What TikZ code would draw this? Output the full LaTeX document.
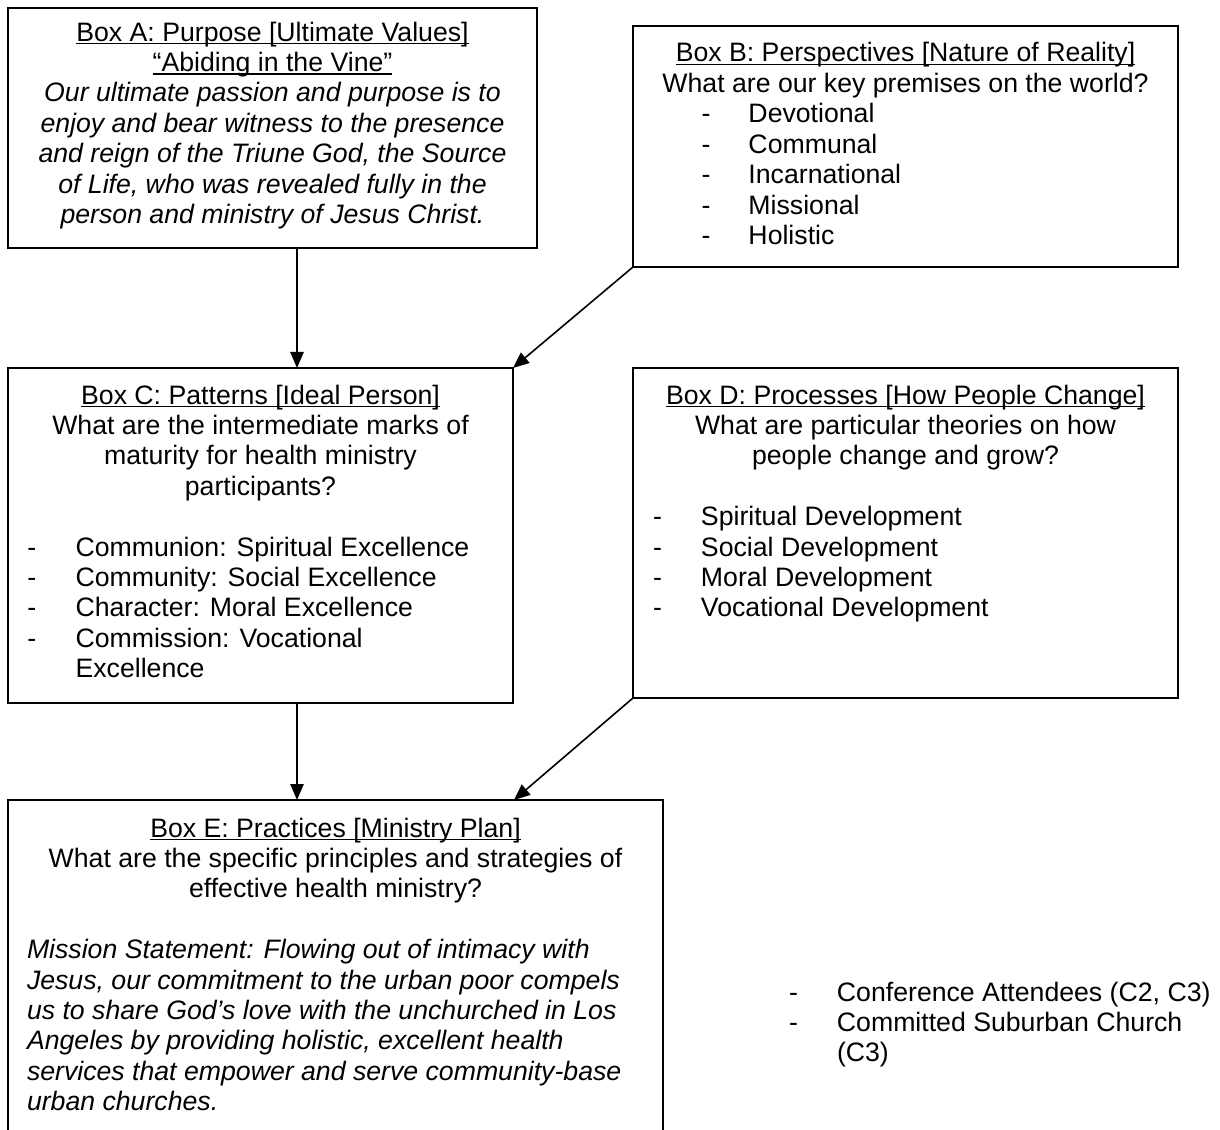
\documentclass[tikz,border=0pt]{standalone}
\usepackage{fontspec}
\setmainfont{Liberation Sans}
\usetikzlibrary{arrows.meta}
\newcommand\myul[1]{\setbox0=\hbox{#1}\rlap{\rule[-2.6pt]{\wd0}{1.1pt}}\box0}
\newcommand\fs{\rule{0pt}{16pt}}
\newcommand\dsh[1]{\makebox[#1][l]{-}}
\begin{document}
\begin{tikzpicture}[x=0.75pt,y=-0.75pt,
  box/.style={draw,line width=1.5pt,inner sep=0,outer sep=0,rectangle},
  txt/.style={inner sep=0,outer sep=0,font=\fontsize{20pt}{22.8pt}\selectfont},
  arr/.style={line width=1.2pt,-{Triangle[length=12pt,width=10pt]}}]
\useasboundingbox (0,0) rectangle (1220,1130);
\fill[white] (0,0) rectangle (1220,1130);

% boxes
\node[box,minimum width=396.75pt,minimum height=180pt] (boxA) at (272.5,128) {};
\node[box,minimum width=408.75pt,minimum height=180.75pt] (boxB) at (905.5,146.5) {};
\node[box,minimum width=378.75pt,minimum height=251.25pt] (boxC) at (260.5,535.5) {};
\node[box,minimum width=408.75pt,minimum height=247.5pt] (boxD) at (905.5,533) {};
\node[inner sep=0,outer sep=0,minimum width=491.25pt,minimum height=255pt] (boxE) at (335.5,970) {};
\draw[line width=1.5pt] (boxE.south west) |- (boxE.north east) -- (boxE.south east);

% Box A text
\node[txt,align=center,anchor=north] (tA) at (272.5,19.67)
 {\fs\myul{Box A: Purpose [Ultimate Values]}\\
  \myul{“Abiding in the Vine”}\\
  \textit{Our ultimate passion and purpose is to}\\
  \textit{enjoy and bear witness to the presence}\\
  \textit{and reign of the Triune God, the Source}\\
  \textit{of Life, who was revealed fully in the}\\
  \textit{person and ministry of Jesus Christ.}};

% Box B text
\node[txt,align=center,anchor=north] (tB) at (905.5,40.67)
 {\fs\myul{Box B: Perspectives [Nature of Reality]}\\
  What are our key premises on the world?};
\node[txt,align=left,anchor=north west] (lB) at (701.5,101.47)
 {\fs\dsh{35.25pt}Devotional\\
  \dsh{35.25pt}Communal\\
  \dsh{35.25pt}Incarnational\\
  \dsh{35.25pt}Missional\\
  \dsh{35.25pt}Holistic};

% Box C text
\node[txt,align=center,anchor=north] (tC) at (260.5,382.67)
 {\fs\myul{Box C: Patterns [Ideal Person]}\\
  What are the intermediate marks of\\
  maturity for health ministry\\
  participants?};
\node[txt,align=left,anchor=north west] (lC) at (27.3,534.67)
 {\fs\dsh{36.2pt}Communion: Spiritual Excellence\\
  \dsh{36.2pt}Community: Social Excellence\\
  \dsh{36.2pt}Character: Moral Excellence\\
  \dsh{36.2pt}Commission: Vocational\\
  \hspace*{36.2pt}Excellence};

% Box D text
\node[txt,align=center,anchor=north] (tD) at (905.5,382.67)
 {\fs\myul{Box D: Processes [How People Change]}\\
  What are particular theories on how\\
  people change and grow?};
\node[txt,align=left,anchor=north west] (lD) at (653,504.27)
 {\fs\dsh{36pt}Spiritual Development\\
  \dsh{36pt}Social Development\\
  \dsh{36pt}Moral Development\\
  \dsh{36pt}Vocational Development};

% Box E text
\node[txt,align=center,anchor=north] (tE) at (335.5,815.67)
 {\fs\myul{Box E: Practices [Ministry Plan]}\\
  What are the specific principles and strategies of\\
  effective health ministry?};
\node[txt,align=left,anchor=north west] (mE) at (27,937.27)
 {\fs\textit{Mission Statement: Flowing out of intimacy with}\\
  \textit{Jesus, our commitment to the urban poor compels}\\
  \textit{us to share God’s love with the unchurched in Los}\\
  \textit{Angeles by providing holistic, excellent health}\\
  \textit{services that empower and serve community-base}\\
  \textit{urban churches.}};

% free list
\node[txt,align=left,anchor=north west] (lF) at (789,979.67)
 {\fs\dsh{36pt}Conference Attendees (C2, C3)\\
  \dsh{36pt}Committed Suburban Church\\
  \hspace*{36pt}(C3)};

% connectors
\coordinate (xAC) at (297,0);
\coordinate (xDE) at (514,0);
\draw[arr] (boxA.south -| xAC) -- (boxC.north -| xAC);
\draw[arr] (boxB.south west) -- (boxC.north east);
\draw[arr] (boxC.south -| xAC) -- (boxE.north -| xAC);
\draw[arr] (boxD.south west) -- (boxE.north -| xDE);
\end{tikzpicture}
\end{document}
